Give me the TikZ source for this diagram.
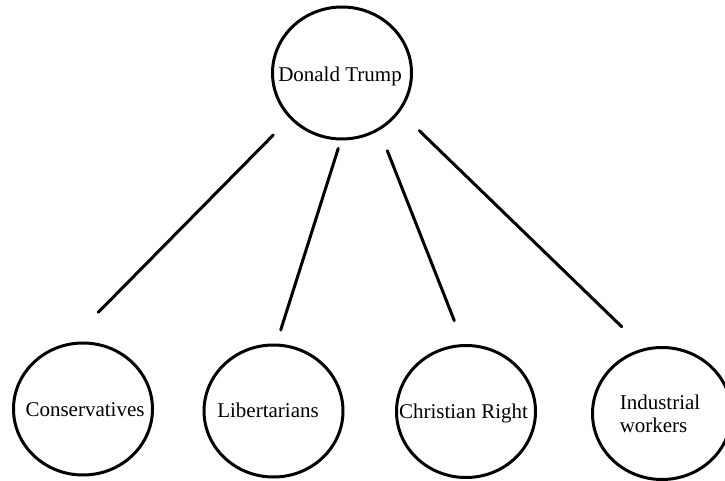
\documentclass[tikz,border=0pt]{standalone}
\usepackage{fontspec}
\setmainfont{Liberation Serif}
\usetikzlibrary{shapes.geometric}
\tikzset{
  ball/.style={draw=black, line width=3pt, ellipse, minimum width=139pt, minimum height=132pt, inner sep=0pt, fill=white},
  lbl/.style={font=\fontsize{21}{23}\selectfont, inner sep=0pt, text=black},
  link/.style={draw=black, line width=3pt, line cap=round}
}
\begin{document}
\begin{tikzpicture}[x=1pt,y=-1pt]
\useasboundingbox (0,0) rectangle (725,481);
\fill[white] (0,0) rectangle (725,481);
% circles
\node[ball] (trump) at (342,73) {};
\node[ball] (cons) at (83,409) {};
\node[ball] (lib) at (273.5,411) {};
\node[ball] (chr) at (466,411.5) {};
\node[ball] (ind) at (662,413.5) {};
% labels
\node[lbl] (trumpT) at (340,76) {Donald Trump};
\node[lbl] (consT) at (85,410) {Conservatives};
\node[lbl] (libT) at (268,410) {Libertarians};
\node[lbl] (chrT) at (463.5,413) {Christian Right};
\node[lbl, align=left] (indT) at (660,413.5) {Industrial\\workers};
% connector end points
\coordinate (a1) at (273.3,135);
\coordinate (b1) at (98.3,312.3);
\coordinate (a2) at (338.3,148.3);
\coordinate (b2) at (280.7,330);
\coordinate (a3) at (387.3,150.7);
\coordinate (b3) at (454.3,320.7);
\coordinate (a4) at (419.3,130.7);
\coordinate (b4) at (621.7,326.7);
\draw[link] (a1) -- (b1);
\draw[link] (a2) -- (b2);
\draw[link] (a3) -- (b3);
\draw[link] (a4) -- (b4);
\end{tikzpicture}
\end{document}
